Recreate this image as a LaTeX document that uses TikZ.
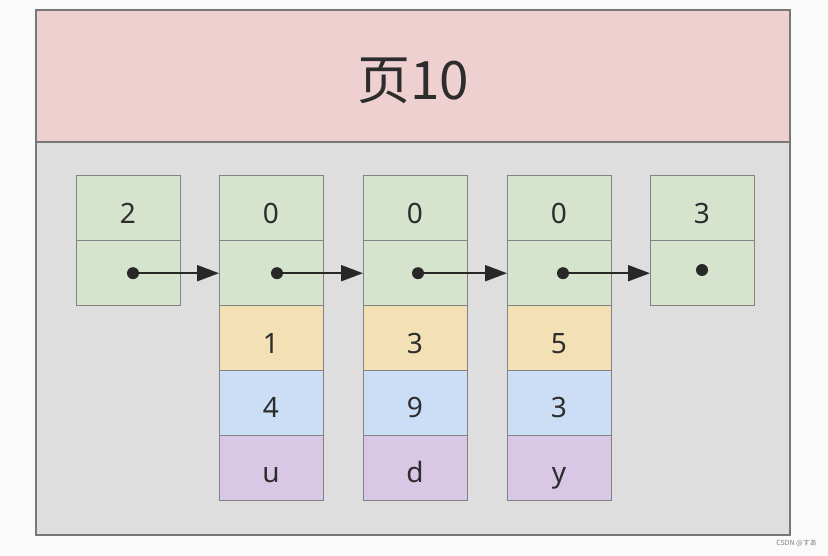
\documentclass[tikz,border=0pt]{standalone}
\usepackage{fontspec}
\setmainfont{Noto Sans}
\newfontfamily\cjk{Noto Sans CJK SC}
\newfontfamily\jpfont{Noto Sans CJK JP}
\usetikzlibrary{arrows.meta}
\definecolor{pagebg}{RGB}{250,250,250}
\definecolor{titlebg}{RGB}{239,208,209}
\definecolor{bodybg}{RGB}{222,222,222}
\definecolor{frameline}{RGB}{120,120,120}
\definecolor{cellline}{RGB}{130,130,130}
\definecolor{cgreen}{RGB}{214,228,206}
\definecolor{cyellow}{RGB}{243,225,181}
\definecolor{cblue}{RGB}{204,222,246}
\definecolor{cpurple}{RGB}{216,200,229}
\definecolor{txt}{RGB}{45,45,45}
\definecolor{arrowc}{RGB}{40,40,40}
\begin{document}
\begin{tikzpicture}[x=1pt,y=-1pt,
  cell/.style={draw=cellline, line width=1pt, minimum width=104pt, minimum height=64.8pt,
    inner sep=0pt, outer sep=0pt, anchor=north west, text=txt, font=\fontsize{28}{28}\selectfont,
    text height=30pt, text depth=0pt},
  panel/.style={draw=frameline, line width=1.5pt, anchor=north west, inner sep=0pt, outer sep=0pt},
  dot/.style={circle, fill=arrowc, inner sep=0pt, minimum size=12pt},
  link/.style={draw=arrowc, line width=2pt, -{Triangle[length=22pt,width=16pt]}}]
\useasboundingbox (0,0) rectangle (828,556);
\fill[pagebg] (0,0) rectangle (828,556);
\node[panel, fill=bodybg, minimum width=754pt, minimum height=393pt] (body) at (36,142) {};
\node[panel, fill=titlebg, minimum width=754pt, minimum height=132pt] (title) at (36,10) {};
\node[text=txt, font=\cjk\fontsize{53}{53}\selectfont, inner sep=0pt] (titletext) at (413,81) {页10};
\foreach \i/\x/\a in {1/76/2, 2/219/0, 3/363/0, 4/507/0, 5/650/3} {
  \node[cell, fill=cgreen] (k\i) at (\x,176) {\a};
  \node[cell, fill=cgreen] (p\i) at (\x,240.8) {};
}
\foreach \i/\x/\a/\b/\c in {2/219/1/4/u, 3/363/3/9/d, 4/507/5/3/y} {
  \node[cell, fill=cyellow] (f\i) at (\x,305.6) {\a};
  \node[cell, fill=cblue] (s\i) at (\x,370.4) {\b};
  \node[cell, fill=cpurple] (t\i) at (\x,435.2) {\c};
}
\node[dot] (d1) at (133,273.2) {};
\node[dot] (d2) at (277,273.2) {};
\node[dot] (d3) at (418,273.2) {};
\node[dot] (d4) at (563,273.2) {};
\node[dot] (d5) at (702,270) {};
\draw[link] (d1.center) -- (d1.center -| p2.west);
\draw[link] (d2.center) -- (d2.center -| p3.west);
\draw[link] (d3.center) -- (d3.center -| p4.west);
\draw[link] (d4.center) -- (d4.center -| p5.west);
\node[anchor=east, text=gray, font=\jpfont\fontsize{7}{7}\selectfont, inner sep=0pt] (wm) at (817,543) {CSDN @すあ};
\end{tikzpicture}
\end{document}
